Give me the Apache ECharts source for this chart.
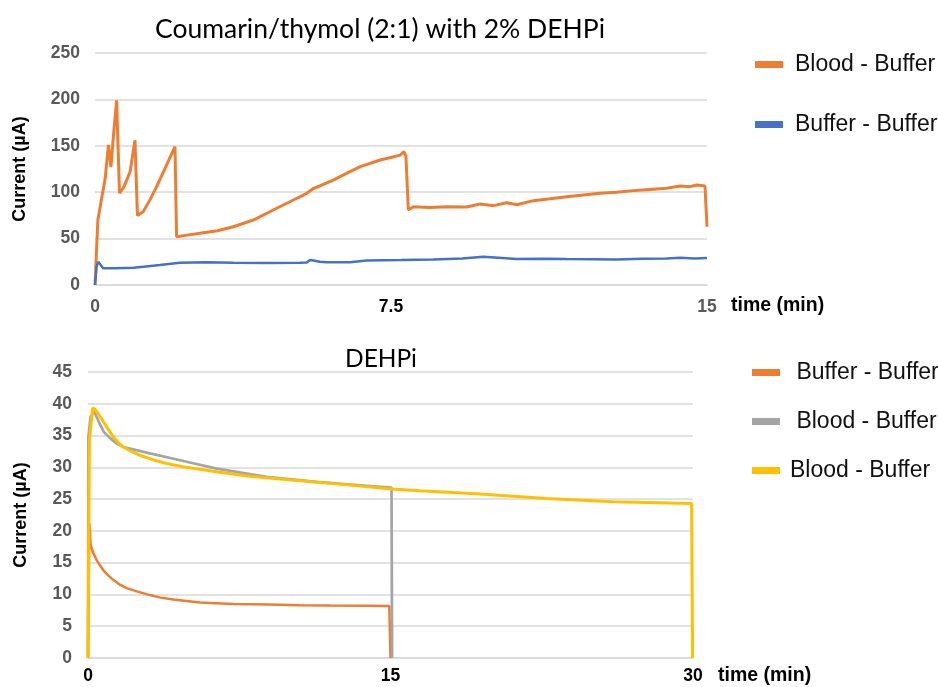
<!DOCTYPE html>
<html>
<head>
<meta charset="utf-8">
<script src="https://cdn.jsdelivr.net/npm/echarts@6/dist/echarts.min.js"></script>
<style>
  html, body { margin: 0; padding: 0; background: #fff; }
  #chart { width: 938px; height: 687px; }
</style>
</head>
<body>
<div id="chart"></div>
<script>
// Upper panel: Coumarin/thymol (2:1) with 2% DEHPi, 0–15 min
const topBloodT = [0, 0.07, 0.15, 0.25, 0.33, 0.39, 0.45, 0.53, 0.6, 0.7, 0.86, 0.98, 1.04, 1.18, 1.35, 1.51, 1.75, 1.96, 2.0, 2.3, 2.57, 3.0, 3.39, 3.88, 4.37, 4.86, 5.02, 5.19, 5.35, 5.51, 5.84, 6.2, 6.5, 6.99, 7.3, 7.48, 7.57, 7.62, 7.68, 7.8, 8.2, 8.62, 9.11, 9.44, 9.76, 10.09, 10.34, 10.74, 11.15, 11.56, 11.97, 12.38, 12.78, 13.19, 13.6, 14.01, 14.34, 14.58, 14.75, 14.95, 15.0];
const topBloodV = [0, 70, 90, 115, 151, 127, 160, 199, 99, 105, 122, 156, 75, 79, 92, 106, 129, 149, 52, 54, 55.7, 58.5, 62.8, 70, 80.8, 91.6, 95, 98.8, 104, 106.7, 113, 121, 127.5, 134.7, 138, 140, 143.7, 139, 80.8, 84.4, 83.5, 84.4, 84, 87.3, 85.5, 88.7, 86.5, 90.9, 93, 95.2, 97, 98.8, 100, 101.7, 103, 104.2, 106.7, 106, 107.8, 106.7, 62.8];
const topBufferT = [0, 0.04, 0.08, 0.2, 0.5, 0.94, 1.25, 1.59, 2.08, 2.7, 3.39, 4.2, 5.02, 5.19, 5.27, 5.35, 5.51, 5.68, 6.25, 6.66, 7.5, 8.29, 9.0, 9.52, 10.34, 11.0, 11.56, 12.2, 12.78, 13.4, 14.01, 14.34, 14.7, 15];
const topBufferV = [0, 20, 25, 18, 18, 18.5, 20, 21.5, 24, 24.4, 24, 23.8, 24, 24.2, 27, 26.5, 25, 24.4, 24.4, 26.5, 27, 27.6, 28.5, 30.5, 28, 28.3, 28, 27.8, 27.6, 28.2, 28.5, 29.4, 28.5, 29];

// Lower panel: DEHPi, 0–30 min
const botBufferT = [0, 0.07, 0.13, 0.25, 0.43, 0.55, 0.76, 1.0, 1.25, 1.55, 1.92, 2.5, 3.07, 3.6, 4.23, 5.55, 7.2, 9.0, 10.5, 12.0, 13.8, 14.94, 15.0];
const botBufferV = [0, 21.2, 17.8, 16.6, 15.4, 14.8, 13.8, 13.0, 12.3, 11.6, 11, 10.4, 9.9, 9.5, 9.2, 8.75, 8.5, 8.4, 8.3, 8.25, 8.23, 8.2, 0];
const botBloodAT = [0, 0.02, 0.13, 0.3, 0.45, 0.6, 0.8, 1.09, 1.4, 1.75, 2.4, 3.07, 4.73, 6.38, 8.86, 11.34, 13.82, 15.05, 15.08];
const botBloodAV = [0, 34.8, 38, 38.75, 37.8, 36.7, 35.5, 34.6, 33.8, 33.2, 32.7, 32.2, 31, 29.8, 28.5, 27.7, 27.1, 26.8, 0];
const botBloodBT = [0, 0.07, 0.23, 0.33, 0.43, 0.6, 0.76, 1.0, 1.25, 1.5, 1.75, 2.15, 2.58, 3.2, 3.9, 4.7, 5.55, 6.8, 8.03, 10.51, 12.99, 15.06, 16.46, 19.44, 22.74, 26.05, 29.93, 29.98];
const botBloodBV = [0, 34.3, 39.3, 39.2, 38.75, 38.0, 37.2, 36.0, 34.8, 33.9, 33.2, 32.5, 31.9, 31.2, 30.6, 30.1, 29.7, 29.1, 28.6, 27.9, 27.2, 26.6, 26.3, 25.8, 25.1, 24.6, 24.3, 0];

const topTicks = [0, 7.5, 15];
const botTicks = [0, 15, 30];

const pairs = (t, v) => t.map((x, i) => [x, v[i]]);

const grey = '#595959';
const grid = '#d9d9d9';
const titleFont = 'Lato, "Open Sans", sans-serif';
const bodyFont = '"Liberation Sans", Arial, sans-serif';

const chart = echarts.init(document.getElementById('chart'), null, { renderer: 'canvas' });

const yAxisBase = {
  type: 'value',
  name: 'Current (µA)',
  nameLocation: 'middle',
  nameRotate: 90,
  nameTextStyle: { fontFamily: bodyFont, fontWeight: 'bold', fontSize: 18, color: '#000' },
  axisLine: { show: false },
  axisTick: { show: false },
  axisLabel: { fontFamily: bodyFont, fontWeight: 'bold', fontSize: 17.5, color: grey },
  splitLine: { lineStyle: { color: grid, width: 1.5 } }
};

const xAxisBase = {
  type: 'value',
  name: 'time (min)',
  nameLocation: 'end',
  nameTextStyle: { fontFamily: bodyFont, fontWeight: 'bold', fontSize: 19.5, color: '#000', verticalAlign: 'top' },
  axisLine: { lineStyle: { color: grid, width: 1.5 } },
  axisTick: { show: false },
  splitLine: { show: false }
};

chart.setOption({
  animation: false,
  backgroundColor: '#fff',
  title: [
    { text: 'Coumarin/thymol (2:1) with 2% DEHPi', left: 375, top: 11, textAlign: 'center',
      textStyle: { fontFamily: titleFont, fontWeight: 'normal', fontSize: 26.5, color: '#000' } },
    { text: 'DEHPi', left: 376, top: 342, textAlign: 'center',
      textStyle: { fontFamily: titleFont, fontWeight: 'normal', fontSize: 24.5, color: '#000' } }
  ],
  legend: [
    { orient: 'vertical', left: 750, top: 48, itemWidth: 28, itemHeight: 7, itemGap: 37, icon: 'rect',
      data: ['Blood - Buffer', 'Buffer - Buffer'],
      textStyle: { fontFamily: bodyFont, fontSize: 23, color: '#111', lineHeight: 22, padding: [0, 0, 0, 7] } },
    { orient: 'vertical', left: 747, top: 356, itemWidth: 28, itemHeight: 7, itemGap: 26, icon: 'rect',
      data: [' Buffer - Buffer', ' Blood - Buffer', 'Blood - Buffer '],
      textStyle: { fontFamily: bodyFont, fontSize: 23, color: '#111', lineHeight: 22, padding: [0, 0, 0, 5] } }
  ],
  grid: [
    { left: 95, top: 53, width: 612, height: 232 },
    { left: 88, top: 372, width: 605, height: 286 }
  ],
  xAxis: [
    Object.assign({}, xAxisBase, {
      gridIndex: 0, min: 0, max: 15, interval: 7.5, nameGap: 24,
      nameTextStyle: Object.assign({}, xAxisBase.nameTextStyle, { padding: [11, 0, 0, 0] }),
      axisLabel: {
        margin: 13, fontFamily: bodyFont, fontWeight: 'bold', fontSize: 17.5, color: grey,
        formatter: v => (v === topTicks[1] ? '{mid|' + v + '}' : String(v)),
        rich: { mid: { fontFamily: bodyFont, fontWeight: 'bold', fontSize: 17.5, color: '#000', padding: [0, 20, 0, 0] } }
      }
    }),
    Object.assign({}, xAxisBase, {
      gridIndex: 1, min: 0, max: 30, interval: 15, nameGap: 25,
      nameTextStyle: Object.assign({}, xAxisBase.nameTextStyle, { padding: [8, 0, 0, 0] }),
      axisLabel: { margin: 9, fontFamily: bodyFont, fontWeight: 'bold', fontSize: 17.5, color: '#000',
        formatter: v => (botTicks.indexOf(v) >= 0 ? String(v) : '') }
    })
  ],
  yAxis: [
    Object.assign({}, yAxisBase, { gridIndex: 0, min: 0, max: 250, interval: 50, nameGap: 66,
      axisLabel: Object.assign({}, yAxisBase.axisLabel, { margin: 15 }) }),
    Object.assign({}, yAxisBase, { gridIndex: 1, min: 0, max: 45, interval: 5, nameGap: 58,
      axisLabel: Object.assign({}, yAxisBase.axisLabel, { margin: 16 }) })
  ],
  series: [
    { name: 'Blood - Buffer', type: 'line', xAxisIndex: 0, yAxisIndex: 0, showSymbol: false,
      color: '#ED7D31', lineStyle: { width: 3, color: '#ED7D31' }, data: pairs(topBloodT, topBloodV) },
    { name: 'Buffer - Buffer', type: 'line', xAxisIndex: 0, yAxisIndex: 0, showSymbol: false,
      color: '#4472C4', lineStyle: { width: 2.5, color: '#4472C4' }, data: pairs(topBufferT, topBufferV) },
    { name: ' Buffer - Buffer', type: 'line', xAxisIndex: 1, yAxisIndex: 1, showSymbol: false,
      color: '#ED7D31', lineStyle: { width: 2.5, color: '#ED7D31' }, data: pairs(botBufferT, botBufferV) },
    { name: ' Blood - Buffer', type: 'line', xAxisIndex: 1, yAxisIndex: 1, showSymbol: false,
      color: '#A5A5A5', lineStyle: { width: 2.75, color: '#A5A5A5' }, data: pairs(botBloodAT, botBloodAV) },
    { name: 'Blood - Buffer ', type: 'line', xAxisIndex: 1, yAxisIndex: 1, showSymbol: false,
      color: '#FFC000', lineStyle: { width: 3, color: '#FFC000' }, data: pairs(botBloodBT, botBloodBV) }
  ]
});
</script>
</body>
</html>
